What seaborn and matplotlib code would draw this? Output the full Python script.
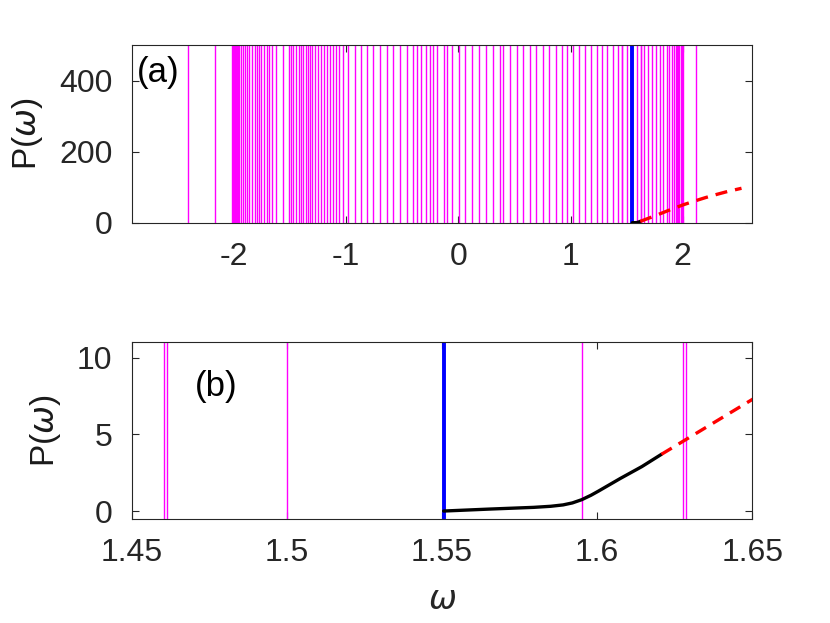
import matplotlib
matplotlib.use('Agg')
import matplotlib.pyplot as plt
import seaborn as sns
import pandas as pd

# mode frequencies (magenta lines)
omega_modes = [
    -2.41, -2.164,
    -2.02, -2.012, -2.004, -1.996, -1.988, -1.98, -1.972, -1.964,
    -1.950, -1.935, -1.917, -1.897, -1.879, -1.861, -1.840, -1.816, -1.795,
    -1.775, -1.754, -1.728, -1.706, -1.683, -1.656, -1.623, -1.558, -1.505,
    -1.487, -1.469, -1.445, -1.421, -1.398, -1.380, -1.359, -1.341, -1.321,
    -1.300, -1.276, -1.252, -1.222, -1.193, -1.172, -1.142, -1.118, -1.089,
    -1.060, -1.030, -0.983, -0.920, -0.866, -0.810, -0.757, -0.697, -0.638,
    -0.578, -0.519, -0.460, -0.400, -0.365, -0.335, -0.290, -0.252, -0.223,
    -0.187, -0.127, -0.098, -0.059, 0.010, 0.063, 0.125, 0.184, 0.244,
    0.312, 0.371, 0.401, 0.460, 0.520, 0.579, 0.638, 0.692, 0.757, 0.810,
    0.870, 0.921, 0.971, 1.024, 1.075, 1.128, 1.182, 1.233, 1.280, 1.326,
    1.375, 1.425, 1.4605, 1.4615, 1.5001, 1.5951, 1.6276, 1.6286, 1.656,
    1.692, 1.728, 1.760, 1.796, 1.826, 1.856, 1.879, 1.903, 1.921, 1.94,
    1.95, 1.96, 1.97, 1.98, 1.99, 1.998, 2.119,
]
omega_blue = 1.5505

# stable branch (black, solid)
stable_w = [1.5505, 1.5655, 1.5795, 1.585, 1.589, 1.592, 1.595, 1.598,
            1.6004, 1.6074, 1.6144, 1.6207]
stable_p = [0.0, 0.13, 0.24, 0.31, 0.40, 0.53, 0.74, 1.03, 1.30, 2.12, 2.90, 3.70]

# unstable branch (red, dashed)
unstable_w = [1.6207, 1.65, 1.70, 1.80, 1.90, 2.00, 2.10, 2.20, 2.30, 2.40, 2.523]
unstable_p = [3.70, 7.28, 13.2, 25.5, 38.0, 50.0, 60.5, 70.5, 79.5, 88.0, 96.9]

top_xticks = [-2, -1, 0, 1, 2]
top_xlabels = ['-2', '-1', '0', '1', '2']
top_yticks = [0, 200, 400]
bot_xticks = [1.45, 1.5, 1.55, 1.6, 1.65]
bot_xlabels = ['1.45', '1.5', '1.55', '1.6', '1.65']
bot_yticks = [0, 5, 10]

sns.set_theme(style="white")
plt.rcParams['font.family'] = ['Liberation Sans', 'DejaVu Sans']
plt.rcParams['mathtext.fontset'] = 'dejavusans'

stable = pd.DataFrame({'w': stable_w, 'P': stable_p})
unstable = pd.DataFrame({'w': unstable_w, 'P': unstable_p})

fig = plt.figure(figsize=(8.3, 6.23), dpi=100)
ax1 = fig.add_axes([0.1587, 0.6425, 0.7478, 0.2852])
ax2 = fig.add_axes([0.1587, 0.1674, 0.7478, 0.2831])

edge = '#262626'
for ax, ylim in [(ax1, (0, 500)), (ax2, (-0.5, 11))]:
    ax.vlines(omega_modes, ylim[0], ylim[1], colors='#ff00ff', linewidth=1.0, zorder=1)
    ax.vlines([omega_blue], ylim[0], ylim[1], colors='#0000ff', linewidth=2.8, zorder=2)
    sns.lineplot(data=stable, x='w', y='P', ax=ax, color='black', linewidth=2.4,
                 sort=False, zorder=3)
    sns.lineplot(data=unstable, x='w', y='P', ax=ax, color='#ff0000', linewidth=2.4,
                 sort=False, zorder=3)
    ax.lines[-1].set_dashes((3.6, 2.4))
    ax.set_ylim(*ylim)
    ax.set_xlabel('')
    ax.set_ylabel('P($\\omega$)', fontsize=24, labelpad=10, color='#1a1a1a')
    for s in ax.spines.values():
        s.set_color(edge)
        s.set_linewidth(0.8)
    ax.tick_params(direction='in', length=5, width=0.8, color=edge,
                   labelsize=23, labelcolor='#262626', top=True, right=True,
                   bottom=True, left=True)
    ax.tick_params(axis='x', pad=14)
    ax.tick_params(axis='y', pad=14)

ax1.set_xlim(-2.91, 2.62)
ax1.set_xticks(top_xticks)
ax1.set_xticklabels(top_xlabels)
ax1.set_yticks(top_yticks)
ax1.text(-2.86, 395, '(a)', fontsize=25, color='black')

ax2.set_xlim(1.45, 1.65)
ax2.set_xticks(bot_xticks)
ax2.set_xticklabels(bot_xlabels)
ax2.set_yticks(bot_yticks)
ax2.text(1.4705, 7.5, '(b)', fontsize=25, color='black')
ax2.set_xlabel('$\\omega$', fontsize=24, labelpad=12)

fig.savefig('out.png', dpi=100)
